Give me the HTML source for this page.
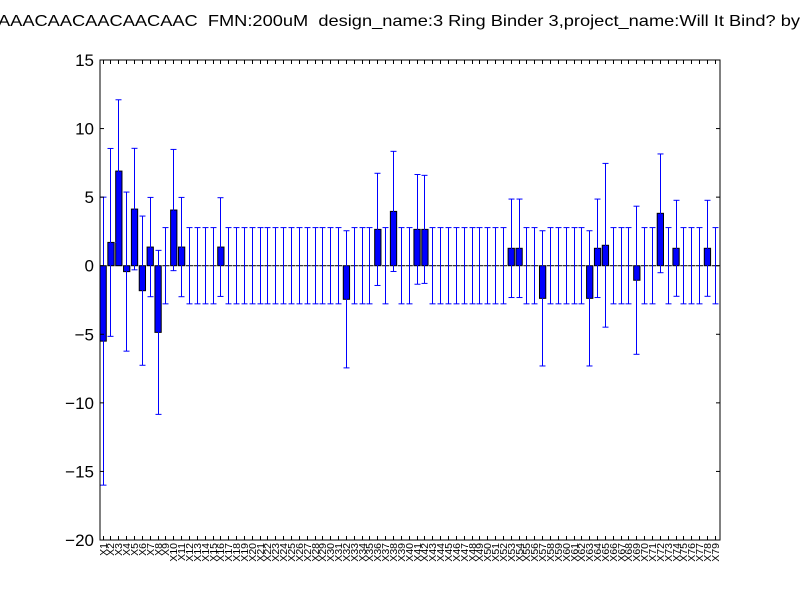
<!DOCTYPE html>
<html><head><meta charset="utf-8"><style>html,body{margin:0;padding:0;background:#fff}svg{display:block}</style></head>
<body>
<svg id="chart" width="800" height="600" xmlns="http://www.w3.org/2000/svg" font-family="Liberation Sans, DejaVu Sans, sans-serif">
<rect width="800" height="600" fill="#fff"/>
<text x="-2" y="26" font-size="16" style="white-space:pre" xml:space="preserve" textLength="802" lengthAdjust="spacingAndGlyphs">AAACAACAACAACAAC  FMN:200uM  design_name:3 Ring Binder 3,project_name:Will It Bind? by</text>
<g id="ticks"></g>
<g id="plot"></g>
</svg>
<script>
const categories = Array.from({length:79},(_, i)=>'X'+(i+1));
const values = [-5.5,1.7,6.9,-0.43,4.13,-1.82,1.36,-4.86,0,4.06,1.36,0,0,0,0,1.36,0,0,0,0,0,0,0,0,0,0,0,0,0,0,0,-2.45,0,0,0,2.65,0,3.96,0,0,2.65,2.65,0,0,0,0,0,0,0,0,0,0,1.27,1.27,0,0,-2.38,0,0,0,0,0,-2.38,1.27,1.49,0,0,0,-1.06,0,0,3.82,0,1.27,0,0,0,1.27,0];
const errors = [10.5,6.85,5.2,5.8,4.43,5.44,3.62,5.98,2.78,4.42,3.62,2.78,2.78,2.78,2.78,3.6,2.78,2.78,2.78,2.78,2.78,2.78,2.78,2.78,2.78,2.78,2.78,2.78,2.78,2.78,2.78,5.0,2.78,2.78,2.78,4.09,2.78,4.38,2.78,2.78,4.0,3.94,2.78,2.78,2.78,2.78,2.78,2.78,2.78,2.78,2.78,2.78,3.59,3.59,2.78,2.78,4.93,2.78,2.78,2.78,2.78,2.78,4.93,3.59,5.97,2.78,2.78,2.78,5.4,2.78,2.78,4.33,2.78,3.5,2.78,2.78,2.78,3.5,2.78];
const yTicks = [15,10,5,0,-5,-10,-15,-20];
const L=100,R=720,T=60,B=540,yMin=-20,yMax=15;
const n=categories.length;
const xs=i=>L+i*(R-L)/n;
const ys=v=>T+(yMax-v)*(B-T)/(yMax-yMin);
const NS='http://www.w3.org/2000/svg';
const g=document.getElementById('plot');
const tg=document.getElementById('ticks');
function mk(tag,attrs,parent){const e=document.createElementNS(NS,tag);for(const k in attrs)e.setAttribute(k,attrs[k]);(parent||g).appendChild(e);return e;}
const bw=0.8*(R-L)/n;
categories.forEach((c,i)=>{
  const v=values[i];const x=xs(i);const y0=ys(0),y1=ys(v);
  const cx=Math.floor(x+bw/2)+0.5,e=errors[i];
  mk('line',{x1:cx,x2:cx,y1:B,y2:B-4,stroke:'#000','stroke-width':1},tg);
  mk('line',{x1:cx,x2:cx,y1:T,y2:T+4,stroke:'#000','stroke-width':1},tg);
  const r=mk('rect',{x:x,y:Math.min(y0,y1),width:bw,height:Math.max(Math.abs(y1-y0),0.01),fill:'#0000ff',stroke:'#000','stroke-width':1});
  
  
  const ln=mk('line',{x1:cx,x2:cx,y1:ys(v+e),y2:ys(v-e),stroke:'#0000ff','stroke-width':1});
  
  
  [v+e,v-e].forEach(t=>{const cp=mk('line',{x1:cx-3,x2:cx+3,y1:ys(t),y2:ys(t),stroke:'#0000ff','stroke-width':1});
    
    });
  const tx=mk('text',{x:0,y:0,'font-size':10.5,'text-anchor':'end',transform:`translate(${cx+3.5},${B+3}) rotate(-90)`});
  tx.textContent=c;
  
  
});
yTicks.forEach(t=>{const y=ys(t);
  mk('line',{x1:L,x2:L+4,y1:y,y2:y,stroke:'#000'});
  mk('line',{x1:R,x2:R-4,y1:y,y2:y,stroke:'#000'});
  const tx=mk('text',{x:L-6,y:y+6,'font-size':17,'text-anchor':'end'});
  tx.textContent=t<0?'\u2212'+(-t):String(t);
  
  
});
const fr=mk('rect',{x:L,y:T,width:R-L,height:B-T,fill:'none',stroke:'#000','stroke-width':1});


</script>
</body></html>
